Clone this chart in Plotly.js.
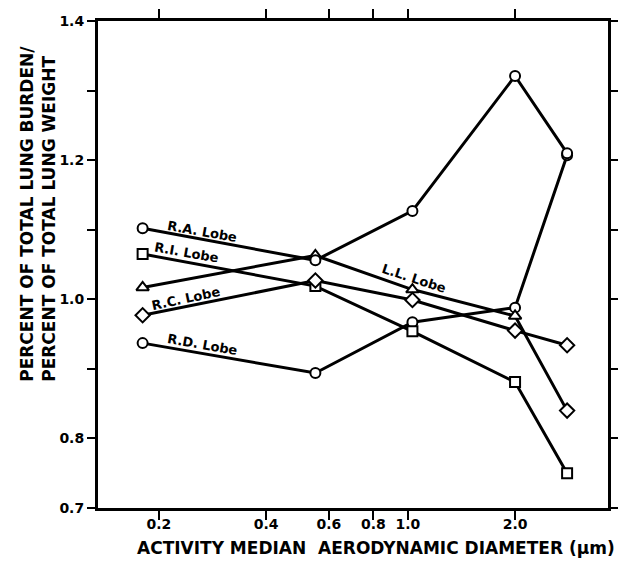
<!DOCTYPE html>
<html>
<head>
<meta charset="utf-8">
<script src="https://cdn.plot.ly/plotly-3.0.1.min.js"></script>
<style>html,body{margin:0;padding:0;background:#fff;}#chart{width:618px;height:561px;}</style>
</head>
<body>
<div id="chart"></div>
<script>
// Activity median aerodynamic diameter (µm)
const diameters = [0.18, 0.55, 1.03, 2.0, 2.8];
// Percent of total lung burden / percent of total lung weight
const raLobe = [1.102, 1.056, 1.127, 1.321, 1.210];
const riLobe = [1.065, 1.019, 0.954, 0.881, 0.750];
const rcLobe = [0.977, 1.027, 0.999, 0.955, 0.934];
const llLobe = [1.017, 1.063, 1.014, 0.976, 0.840];
const rdLobe = [0.937, 0.894, 0.967, 0.988, 1.207];

const seriesNames = ['R.A. Lobe', 'R.I. Lobe', 'R.C. Lobe', 'L.L. Lobe', 'R.D. Lobe'];
const yTickVals = [0.7, 0.8, 0.9, 1.0, 1.1, 1.2, 1.3, 1.4];
const yTickText = ['0.7', '0.8', '', '1.0', '', '1.2', '', '1.4'];
const xTickVals = [0.2, 0.4, 0.6, 0.8, 1.0, 2.0];
const xTickText = ['0.2', '0.4', '0.6', '0.8', '1.0', '2.0'];

const FONT = 'DejaVu Sans, Verdana, sans-serif';

function mk(name, y, symbol, size) {
  return {
    x: diameters, y: y, name: name, type: 'scatter', mode: 'lines+markers',
    line: {color: '#000', width: 3},
    marker: {symbol: symbol, size: size, color: '#fff', line: {color: '#000', width: 2}},
    cliponaxis: false
  };
}

const traces = [
  mk(seriesNames[4], rdLobe, 'circle', 10),
  mk(seriesNames[1], riLobe, 'square', 10),
  mk(seriesNames[3], llLobe, ['triangle-up','triangle-up','triangle-up','triangle-up','diamond'], 11),
  mk(seriesNames[2], rcLobe, 'diamond', 11),
  mk(seriesNames[0], raLobe, 'circle', 10)
];

const labelFont = {family: FONT, size: 13, color: '#000', weight: 'bold'};
function lab(text, x, y, ang) {
  return {text: text, xref: 'paper', yref: 'paper', x: x, y: y, showarrow: false,
          textangle: ang, font: labelFont, xanchor: 'center', yanchor: 'middle'};
}

const layout = {
  width: 618, height: 561,
  margin: {l: 98, r: 10, t: 21, b: 53},
  paper_bgcolor: '#fff', plot_bgcolor: '#fff',
  showlegend: false,
  xaxis: {
    type: 'log', range: [-0.870, 0.562],
    tickmode: 'array', tickvals: xTickVals, ticktext: xTickText,
    ticks: 'outside', ticklen: 9, tickwidth: 2, tickcolor: '#000',
    ticklabelstandoff: -8,
    showline: true, linewidth: 3, linecolor: '#000', mirror: 'ticks',
    showgrid: false, zeroline: false,
    tickfont: {family: FONT, size: 14, color: '#000', weight: 'bold'}
  },
  yaxis: {
    range: [0.7, 1.4],
    tickmode: 'array', tickvals: yTickVals, ticktext: yTickText,
    ticks: 'outside', ticklen: 8, tickwidth: 2, tickcolor: '#000',
    showline: true, linewidth: 3, linecolor: '#000', mirror: 'ticks',
    showgrid: false, zeroline: false,
    tickfont: {family: FONT, size: 14, color: '#000', weight: 'bold'}
  },
  annotations: [
    lab(seriesNames[0], 0.204, 0.567, 10),
    lab(seriesNames[1], 0.173, 0.524, 10),
    lab(seriesNames[2], 0.173, 0.431, -12),
    lab(seriesNames[4], 0.204, 0.335, 10),
    lab(seriesNames[3], 0.620, 0.472, 18),
    {text: 'PERCENT OF TOTAL LUNG BURDEN/<br>PERCENT OF TOTAL LUNG WEIGHT',
     xref: 'paper', yref: 'paper', x: -0.118, y: 0.6037, showarrow: false,
     textangle: -90, align: 'left', xanchor: 'center', yanchor: 'middle',
     font: {family: FONT, size: 17, color: '#000', weight: 'bold'}},
    {text: 'ACTIVITY MEDIAN  AERODYNAMIC DIAMETER (µm)',
     xref: 'paper', yref: 'paper', x: 0.545, y: -0.082, showarrow: false,
     xanchor: 'center', yanchor: 'middle',
     font: {family: FONT, size: 17, color: '#000', weight: 'bold'}}
  ]
};

Plotly.newPlot('chart', traces, layout, {staticPlot: true, displayModeBar: false});
</script>
</body>
</html>
